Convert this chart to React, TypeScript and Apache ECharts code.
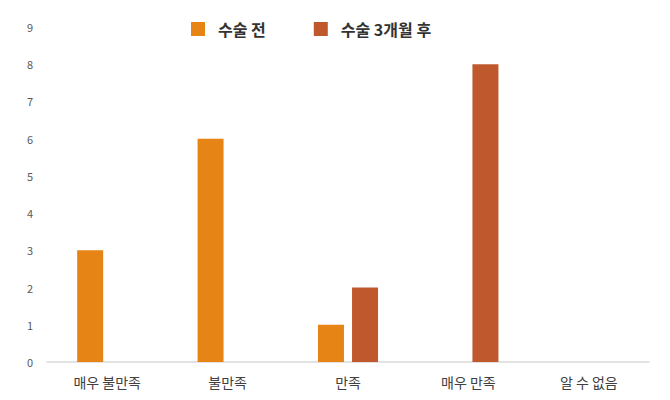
import React, { useEffect, useRef } from "react";
import * as echarts from "echarts";

const categories = ["매우 불만족", "불만족", "만족", "매우 만족", "알 수 없음"];
const seriesNames = ["수술 전", "수술 3개월 후"];
const beforeValues = [3, 6, 1, 0, 0];
const afterValues = [0, 0, 2, 8, 0];
const colors = ["#E68516", "#C0582E"];

const FONT = "'Noto Sans CJK KR', 'Noto Sans', sans-serif";

export default function App() {
  const ref = useRef<HTMLDivElement>(null);
  useEffect(() => {
    const chart = echarts.init(ref.current!, null, { renderer: "svg" });
    chart.setOption({
      animation: false,
      textStyle: { fontFamily: FONT },
      legend: {
        top: 16,
        left: 186,
        itemWidth: 14,
        itemHeight: 14,
        itemGap: 48,
        icon: "rect",
        textStyle: { fontSize: 16, fontWeight: "bold", color: "#333333", fontFamily: FONT, padding: [0, 0, 0, 8] },
        data: seriesNames,
      },
      grid: { left: 47, right: 21, top: 27, bottom: 38, containLabel: false },
      xAxis: {
        type: "category",
        data: categories,
        axisLine: { lineStyle: { color: "#D9D9D9", width: 1.5 } },
        axisTick: { show: false },
        axisLabel: { color: "#404040", fontSize: 14, margin: 13, fontFamily: FONT },
      },
      yAxis: {
        type: "value",
        min: 0,
        max: 9,
        interval: 1,
        splitLine: { show: false },
        axisLine: { show: false },
        axisTick: { show: false },
        axisLabel: { color: "#595959", fontSize: 11, margin: 14, fontFamily: FONT },
      },
      series: [
        {
          name: seriesNames[0],
          type: "bar",
          data: beforeValues,
          barWidth: 26,
          barGap: "31%",
          itemStyle: { color: colors[0] },
        },
        {
          name: seriesNames[1],
          type: "bar",
          data: afterValues,
          barWidth: 26,
          barGap: "31%",
          itemStyle: { color: colors[1] },
        },
      ],
    });
    return () => chart.dispose();
  }, []);
  return (
    <div
      ref={ref}
      style={{ position: "fixed", left: 0, top: 0, width: 670, height: 400, background: "#fff" }}
    />
  );
}
